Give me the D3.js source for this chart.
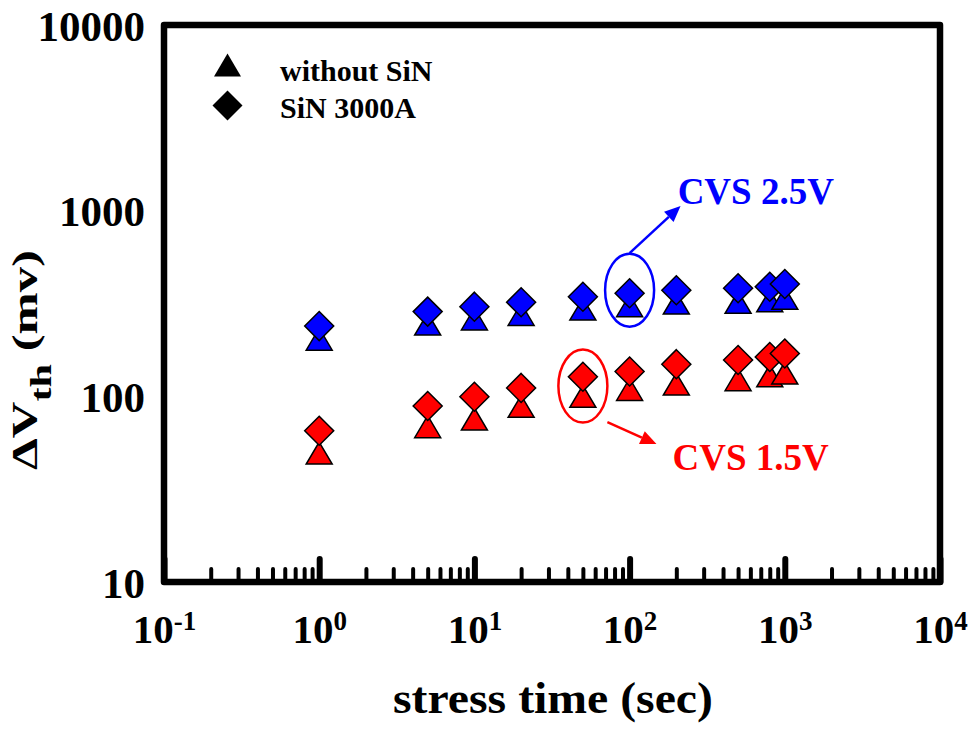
<!DOCTYPE html>
<html>
<head>
<meta charset="utf-8">
<script src="https://cdn.jsdelivr.net/npm/d3@7"></script>
<style>
  html, body { margin: 0; padding: 0; background: #fff; }
  svg { display: block; font-family: "Liberation Serif", "Times New Roman", serif; font-weight: bold; }
</style>
</head>
<body>
<svg id="chart" width="975" height="729"></svg>
<script>
// Stress times (s) and threshold-voltage shifts (mV)
const times = [1, 5, 10, 20, 50, 100, 200, 500, 800, 1000];
const cvs25WithoutSiN = [203, 245, 261, 276, 295, 308, 318, 321, 327, 337];
const cvs25SiN3000A   = [239, 286, 304, 321, 344, 359, 373, 382, 389, 403];
const cvs15WithoutSiN = [49.5, 68.6, 75.5, 88.3, 100, 109, 116.5, 123, 129, 133.5];
const cvs15SiN3000A   = [65.3, 88.7, 99.5, 111, 127.5, 136, 149, 157, 163, 170];

const xMajorTicks = [0.1, 1, 10, 100, 1000, 10000];
const xTickExponents = ["-1", "0", "1", "2", "3", "4"];
const yTicks = [10, 100, 1000, 10000];
const legendLabels = ["without SiN", "SiN 3000A"];

const W = 975, H = 729;
const margin = { top: 25, right: 35, bottom: 147, left: 164 };

const svg = d3.select("#chart");
const x = d3.scaleLog().domain([0.1, 10000]).range([margin.left, W - margin.right]);
const y = d3.scaleLog().domain([10, 10000]).range([H - margin.bottom, margin.top]);

// minor ticks 2..9 within each decade
const xMinorTicks = [];
for (let d = 0.1; d < 10000; d *= 10) {
  for (let k = 2; k <= 9; k++) xMinorTicks.push(d * k);
}

const bottom = H - margin.bottom;

// inward minor ticks
const minorAxis = svg.append("g")
  .attr("transform", `translate(0,${bottom})`)
  .call(d3.axisBottom(x).tickValues(xMinorTicks).tickSize(-13).tickFormat(""));
minorAxis.select(".domain").remove();
minorAxis.selectAll(".tick line").attr("stroke", "#000").attr("stroke-width", 4).attr("stroke-linecap", "round");

// inward major ticks with power-of-ten labels
const majorAxis = svg.append("g")
  .attr("transform", `translate(0,${bottom})`)
  .call(d3.axisBottom(x).tickValues(xMajorTicks).tickSize(-23).tickPadding(0).tickFormat(""));
majorAxis.select(".domain").remove();
majorAxis.selectAll(".tick line").attr("stroke", "#000").attr("stroke-width", 6).attr("stroke-linecap", "round");
majorAxis.selectAll(".tick text").remove();
majorAxis.selectAll(".tick").each(function (d, i) {
  const t = d3.select(this).append("text")
    .attr("y", 61)
    .attr("text-anchor", "middle")
    .attr("fill", "#000")
    .attr("font-size", 41)
    .attr("font-family", "Liberation Serif, serif")
    .attr("font-weight", "bold");
  t.append("tspan").text("10");
  t.append("tspan").attr("font-size", 27).attr("dy", -13).text(xTickExponents[i]);
});

// y axis labels
const yAxis = svg.append("g")
  .attr("transform", `translate(${margin.left},0)`)
  .call(d3.axisLeft(y).tickValues(yTicks).tickSize(0).tickPadding(19).tickFormat(d3.format("d")));
yAxis.select(".domain").remove();
yAxis.selectAll(".tick text")
  .attr("fill", "#000")
  .attr("font-size", 43)
  .attr("font-family", "Liberation Serif, serif")
  .attr("font-weight", "bold")
  .attr("dy", "0.35em");

// markers
function trianglePath(cx, cy, w, h) {
  return `M${cx},${cy - h / 2}L${cx + w / 2},${cy + h / 2}L${cx - w / 2},${cy + h / 2}Z`;
}
function diamondPath(cx, cy, r) {
  return `M${cx},${cy - r}L${cx + r},${cy}L${cx},${cy + r}L${cx - r},${cy}Z`;
}

const triangleSeries = [
  { values: cvs25WithoutSiN, color: "#0000ff" },
  { values: cvs15WithoutSiN, color: "#ff0000" }
];
const diamondSeries = [
  { values: cvs25SiN3000A, color: "#0000ff" },
  { values: cvs15SiN3000A, color: "#ff0000" }
];

const marks = svg.append("g");
triangleSeries.forEach(s => {
  marks.append("g").selectAll("path")
    .data(times.map((t, i) => [t, s.values[i]]))
    .join("path")
    .attr("d", d => trianglePath(x(d[0]), y(d[1]), 26, 22))
    .attr("fill", s.color)
    .attr("stroke", "#000")
    .attr("stroke-width", 1.5)
    .attr("stroke-linejoin", "miter");
});
diamondSeries.forEach(s => {
  marks.append("g").selectAll("path")
    .data(times.map((t, i) => [t, s.values[i]]))
    .join("path")
    .attr("d", d => diamondPath(x(d[0]), y(d[1]), 14.5))
    .attr("fill", s.color)
    .attr("stroke", "#000")
    .attr("stroke-width", 1.5);
});

// annotations: circled groups with arrows to their stress-voltage labels
function arrow(g, x1, y1, x2, y2, color) {
  const ang = Math.atan2(y2 - y1, x2 - x1);
  const len = 16, half = 7;
  const bx = x2 - len * Math.cos(ang), by = y2 - len * Math.sin(ang);
  g.append("line")
    .attr("x1", x1).attr("y1", y1).attr("x2", bx).attr("y2", by)
    .attr("stroke", color).attr("stroke-width", 2.5);
  g.append("path")
    .attr("d", `M${x2},${y2}L${bx + half * Math.sin(ang)},${by - half * Math.cos(ang)}L${bx - half * Math.sin(ang)},${by + half * Math.cos(ang)}Z`)
    .attr("fill", color);
}

const notes = svg.append("g");
// CVS 2.5V
const bcx = x(100), bcy = y(373);
notes.append("ellipse").attr("cx", bcx).attr("cy", bcy).attr("rx", 24.5).attr("ry", 36.5)
  .attr("fill", "none").attr("stroke", "#0000ff").attr("stroke-width", 2.5);
arrow(notes, bcx, bcy - 37, x(213), y(1059), "#0000ff");
notes.append("text").attr("x", x(204)).attr("y", y(1084))
  .attr("fill", "#0000ff").attr("font-size", 37).text("CVS 2.5V");

// CVS 1.5V
const rcx = x(50), rcy = y(113.6);
notes.append("ellipse").attr("cx", rcx).attr("cy", rcy).attr("rx", 24.5).attr("ry", 36.5)
  .attr("fill", "none").attr("stroke", "#ff0000").attr("stroke-width", 2.5);
arrow(notes, rcx + 24.5, rcy + 36, x(149), y(55.3), "#ff0000");
notes.append("text").attr("x", x(189)).attr("y", y(40.1))
  .attr("fill", "#ff0000").attr("font-size", 37).text("CVS 1.5V");

// legend
const legend = svg.append("g");
legend.append("path").attr("d", trianglePath(227.5, 65, 27, 23)).attr("fill", "#000");
legend.append("path").attr("d", diamondPath(227.5, 105.5, 15)).attr("fill", "#000");
legend.selectAll("text").data(legendLabels).join("text")
  .attr("x", 280).attr("y", (d, i) => 81 + i * 36.5)
  .attr("font-size", 30).attr("fill", "#000").text(d => d);

// plot frame
svg.append("rect")
  .attr("x", margin.left).attr("y", margin.top)
  .attr("width", W - margin.left - margin.right)
  .attr("height", H - margin.top - margin.bottom)
  .attr("fill", "none").attr("stroke", "#000").attr("stroke-width", 6.5)
  .attr("stroke-linejoin", "round");

// axis titles, stretched along their reading direction
const xTitle = svg.append("text")
  .attr("text-anchor", "middle")
  .attr("font-size", 44).attr("fill", "#000")
  .text("stress time (sec)");
const xw = xTitle.node().getComputedTextLength();
xTitle.attr("transform", `translate(553,713) scale(${320 / xw},1)`);

const yTitle = svg.append("text")
  .attr("text-anchor", "middle")
  .attr("font-size", 36).attr("fill", "#000");
yTitle.append("tspan").text("ΔV");
yTitle.append("tspan").attr("font-size", 30).attr("dy", 14).text("th");
yTitle.append("tspan").attr("dy", -14).text(" (mv)");
const yw = yTitle.node().getComputedTextLength();
yTitle.attr("transform", `translate(37,360) rotate(-90) scale(${220 / yw},1)`);
</script>
</body>
</html>
